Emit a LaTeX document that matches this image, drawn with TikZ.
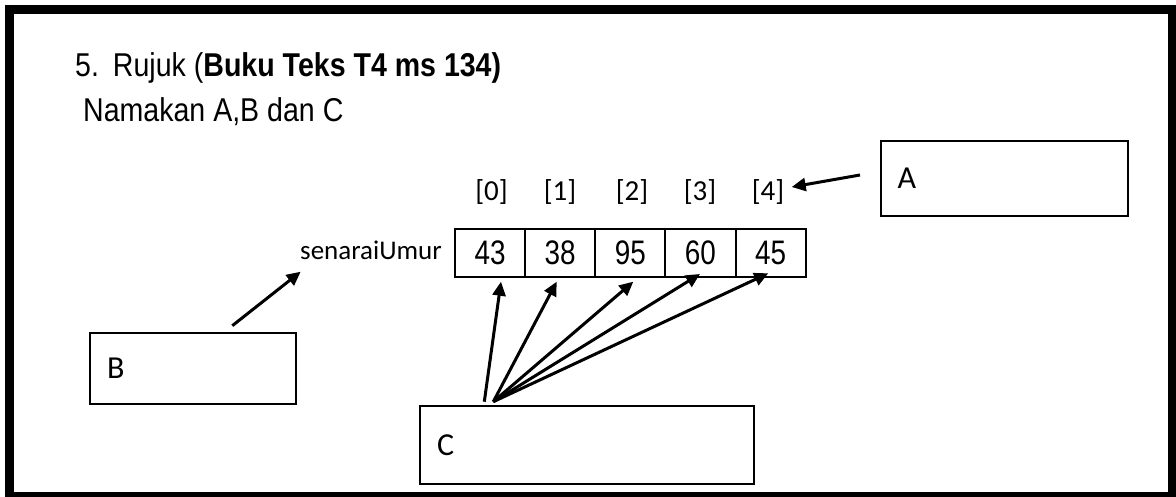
\documentclass[tikz,border=0pt]{standalone}
\usepackage{fontspec}
\setmainfont{Liberation Sans}
\newfontfamily\narrowfont[FakeStretch=0.82]{Liberation Sans}
\newfontfamily\titlefont[FakeStretch=0.865]{Liberation Sans}
\newfontfamily\califont{Carlito}
\usetikzlibrary{arrows.meta}
\begin{document}
\begin{tikzpicture}[x=1pt,y=-1pt,
  ansbox/.style={draw, line width=2.2pt, inner xsep=17pt, inner ysep=0pt, align=left,
    font=\califont\fontsize{32}{36}\selectfont},
  cell/.style={draw, line width=2pt, minimum width=70.14pt, minimum height=47.7pt, inner sep=0pt,
    font=\narrowfont\fontsize{34}{40}\selectfont},
  idx/.style={anchor=base, inner sep=0pt, font=\califont\fontsize{29}{34}\selectfont},
  arr/.style={line width=3pt, -{Triangle[length=14pt,width=13pt]}},
  ttl/.style={anchor=base west, inner sep=0pt, font=\titlefont\fontsize{33}{38}\selectfont}
  ]
\useasboundingbox (0,0) rectangle (1176,497);
% frame
\fill[black] (5,5) rectangle (1176,497);
\fill[white] (13.5,14.5) rectangle (1168,491.5);
% title
\node[ttl] (t1) at (75,77) {5.\hspace{14pt}Rujuk (\textbf{Buku Teks T4 ms 134)}};
\node[ttl] (t2) at (83,122) {Namakan A,B dan C};
% array
\node[cell] (c0) at (490.07,252.8) {43};
\node[cell] (c1) at (560.21,252.8) {38};
\node[cell] (c2) at (630.35,252.8) {95};
\node[cell] (c3) at (700.49,252.8) {60};
\node[cell] (c4) at (770.63,252.8) {45};
\node[idx] (i0) at (491.5,200.5) {[0]};
\node[idx] (i1) at (560,200.5) {[1]};
\node[idx] (i2) at (632,200.5) {[2]};
\node[idx] (i3) at (700,200.5) {[3]};
\node[idx] (i4) at (768,200.5) {[4]};
\node[anchor=base west, inner sep=0pt, font=\califont\fontsize{27}{32}\selectfont] (nm) at (300,259.3) {senaraiUmur};
% answer boxes
\node[ansbox, text width=213.6pt, minimum height=75pt] (boxA) at (1004.5,178.2) {A};
\node[ansbox, text width=172pt, minimum height=71.3pt] (boxB) at (193,368.3) {B};
\node[ansbox, text width=300.3pt, minimum height=78.3pt] (boxC) at (587.15,444.8) {C};
% arrow ends
\coordinate (aTail) at (860,175);
\coordinate (aHead) at (791.7,187);
\coordinate (bTail) at (232.3,325.7);
\coordinate (bHead) at (300.7,271.7);
\coordinate (cT1) at (484.3,401.7);
\coordinate (cT2) at (493.3,401.7);
\coordinate (h0) at (501,281.7);
\coordinate (h1) at (556.7,281.7);
\coordinate (h2) at (633.3,281.7);
\coordinate (h3) at (700,274);
\coordinate (h4) at (768.3,273.3);
% arrows
\draw[arr] (aTail) -- (aHead);
\draw[arr] (bTail) -- (bHead);
\draw[arr] (cT1) -- (h0);
\draw[arr] (cT2) -- (h1);
\draw[arr] (cT2) -- (h2);
\draw[arr] (cT2) -- (h3);
\draw[arr] (cT2) -- (h4);
\end{tikzpicture}
\end{document}
